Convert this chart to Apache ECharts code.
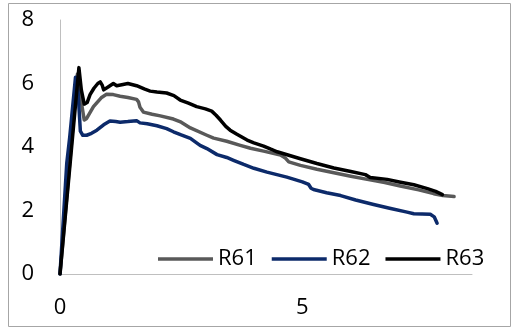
<!DOCTYPE html>
<html>
<head>
<meta charset="utf-8">
<script src="https://cdn.jsdelivr.net/npm/echarts@6/dist/echarts.min.js"></script>
<style>
  html, body { margin: 0; padding: 0; background: #fff; }
  #chart { width: 512px; height: 330px; }
</style>
</head>
<body>
<div id="chart"></div>
<script>
// Series names
const seriesNames = ['R61', 'R62', 'R63'];

// Curves as [x, y] pairs
const r61 = [[0,0],[0.15,2.6],[0.36,6.3],[0.42,5.6],[0.5,4.85],[0.55,4.9],[0.69,5.27],[0.85,5.55],[0.96,5.66],[1.1,5.65],[1.24,5.6],[1.4,5.56],[1.58,5.5],[1.62,5.42],[1.65,5.25],[1.72,5.1],[1.9,5.03],[2.07,4.98],[2.34,4.88],[2.5,4.78],[2.69,4.6],[3.03,4.37],[3.17,4.28],[3.44,4.18],[3.72,4.05],[3.93,3.96],[4.2,3.87],[4.55,3.75],[4.65,3.65],[4.72,3.53],[4.96,3.42],[5.3,3.3],[5.65,3.19],[6.0,3.08],[6.34,2.98],[6.7,2.88],[7.02,2.77],[7.4,2.65],[7.71,2.53],[7.9,2.47],[8.13,2.44]];

const r62 = [[0,0],[0.14,3.5],[0.2,4.3],[0.32,6.2],[0.37,5.8],[0.42,4.5],[0.47,4.37],[0.55,4.37],[0.65,4.43],[0.76,4.53],[0.9,4.7],[1.03,4.82],[1.15,4.8],[1.24,4.78],[1.4,4.8],[1.58,4.83],[1.65,4.76],[1.8,4.73],[2.0,4.67],[2.2,4.58],[2.34,4.48],[2.5,4.38],[2.69,4.27],[2.89,4.05],[3.03,3.95],[3.24,3.76],[3.44,3.67],[3.58,3.58],[3.79,3.45],[4.0,3.33],[4.27,3.21],[4.68,3.05],[5.0,2.9],[5.13,2.82],[5.18,2.7],[5.23,2.66],[5.5,2.56],[5.79,2.47],[6.1,2.33],[6.47,2.19],[6.8,2.07],[7.16,1.95],[7.3,1.9],[7.64,1.88],[7.72,1.8],[7.78,1.6]];

const r63 = [[0,0],[0.39,6.5],[0.44,5.8],[0.5,5.35],[0.56,5.4],[0.62,5.65],[0.7,5.85],[0.78,6.0],[0.83,6.05],[0.87,5.95],[0.9,5.8],[1.0,5.9],[1.1,6.0],[1.17,5.93],[1.3,5.97],[1.4,6.0],[1.58,5.93],[1.75,5.82],[1.86,5.76],[2.0,5.73],[2.2,5.7],[2.35,5.62],[2.48,5.48],[2.65,5.38],[2.82,5.27],[3.0,5.2],[3.13,5.13],[3.22,5.0],[3.31,4.85],[3.42,4.65],[3.51,4.53],[3.65,4.4],[3.86,4.22],[4.0,4.13],[4.2,4.03],[4.35,3.93],[4.48,3.85],[4.96,3.63],[5.3,3.48],[5.65,3.34],[6.0,3.23],[6.3,3.13],[6.4,3.04],[6.75,2.98],[7.0,2.9],[7.3,2.81],[7.58,2.69],[7.75,2.6],[7.89,2.5]];

// Axis ranges
const xRange = { min: 0, max: 8.5, interval: 5 };
const yRange = { min: 0, max: 8, interval: 2 };

const colors = ['#595959', '#0c2a6a', '#000000'];
const FONT = '"Open Sans", "Liberation Sans", sans-serif';

const chart = echarts.init(document.getElementById('chart'), null, { renderer: 'canvas' });

chart.setOption({
  animation: false,
  backgroundColor: '#ffffff',
  grid: { left: 60, right: 40, top: 20, bottom: 56, containLabel: false },
  legend: {
    data: seriesNames,
    icon: 'rect',
    left: 158,
    top: 248,
    padding: 0,
    itemWidth: 55,
    itemHeight: 3.5,
    itemGap: 15,
    textStyle: { fontFamily: FONT, fontSize: 22, color: '#000' }
  },
  xAxis: {
    type: 'value',
    min: xRange.min, max: xRange.max, interval: xRange.interval,
    axisLine: { show: true, lineStyle: { color: '#bfbfbf', width: 1 } },
    axisTick: { show: false },
    splitLine: { show: false },
    axisLabel: { showMaxLabel: false, margin: 23, fontFamily: FONT, fontSize: 22, color: '#000' }
  },
  yAxis: {
    type: 'value',
    min: yRange.min, max: yRange.max, interval: yRange.interval,
    axisLine: { show: true, lineStyle: { color: '#bfbfbf', width: 1 } },
    axisTick: { show: false },
    splitLine: { show: false },
    axisLabel: { margin: 26, fontFamily: FONT, fontSize: 22, color: '#000' }
  },
  graphic: [{
    type: 'rect',
    shape: { x: 8.5, y: 3.5, width: 502, height: 323 },
    style: { fill: 'none', stroke: '#a6a6a6', lineWidth: 1 },
    silent: true
  }],
  series: [r61, r62, r63].map((d, i) => ({
    name: seriesNames[i],
    type: 'line',
    data: d,
    symbol: 'none',
    smooth: false,
    lineStyle: { color: colors[i], width: 3.5, cap: 'round', join: 'round' },
    itemStyle: { color: colors[i] }
  }))
});
</script>
</body>
</html>
